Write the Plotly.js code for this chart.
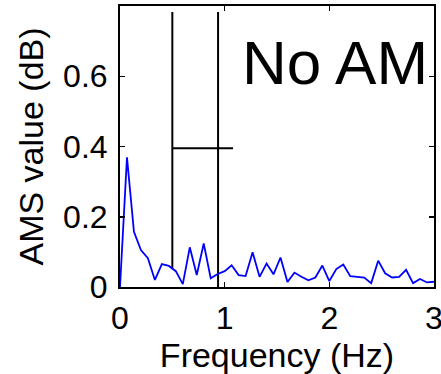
<!DOCTYPE html>
<html>
<head>
<meta charset="utf-8">
<script src="https://cdn.plot.ly/plotly-3.0.1.min.js"></script>
<style>
html,body{margin:0;padding:0;background:#fff;}
#chart{width:441px;height:374px;}
</style>
</head>
<body>
<div id="chart"></div>
<script>
// Modulation frequency bins (Hz)
const frequencies = [0, 0.0667, 0.1333, 0.2, 0.2667, 0.3333, 0.4, 0.4667, 0.5333, 0.6,
  0.6667, 0.7333, 0.8, 0.8667, 0.9333, 1.0, 1.0667, 1.1333, 1.2, 1.2667,
  1.3333, 1.4, 1.4667, 1.5333, 1.6, 1.6667, 1.7333, 1.8, 1.8667, 1.9333,
  2.0, 2.0667, 2.1333, 2.2, 2.2667, 2.3333, 2.4, 2.4667, 2.5333, 2.6,
  2.6667, 2.7333, 2.8, 2.8667, 2.9333, 3.0];
// AMS values (dB)
const amsValues = [0, 0.369, 0.157, 0.105, 0.082, 0.020, 0.065, 0.060, 0.045, 0.008,
  0.113, 0.034, 0.124, 0.025, 0.037, 0.045, 0.062, 0.034, 0.031, 0.099,
  0.029, 0.067, 0.036, 0.084, 0.014, 0.041, 0.029, 0.019, 0.027, 0.061,
  0.017, 0.051, 0.064, 0.031, 0.029, 0.027, 0.011, 0.075, 0.039, 0.027,
  0.029, 0.049, 0.011, 0.023, 0.013, 0.015];
// Marker lines
const leftMarkerX = [0.5, 0.5];
const leftMarkerY = [0.053, 0.783];
const rightMarkerX = [0.937, 0.937];
const rightMarkerY = [0, 0.783];
const barX = [0.5, 1.08];
const barY = [0.395, 0.395];
const yTicks = [0, 0.2, 0.4, 0.6];
const yTickText = ['0', '0.2', '0.4', '0.6'];
const xTicks = [0, 1, 2, 3];
const xTickText = ['0', '1', '2', '3'];
const labelText = 'No AM';

const font = 'Liberation Sans, Arial, Helvetica, sans-serif';

const traces = [
  {x: leftMarkerX, y: leftMarkerY, mode: 'lines', line: {color: '#000', width: 2}, hoverinfo: 'skip'},
  {x: rightMarkerX, y: rightMarkerY, mode: 'lines', line: {color: '#000', width: 2}, hoverinfo: 'skip'},
  {x: barX, y: barY, mode: 'lines', line: {color: '#000', width: 2}, hoverinfo: 'skip'},
  {x: frequencies, y: amsValues, mode: 'lines', line: {color: '#0000ff', width: 1.8}}
];

const layout = {
  width: 441, height: 374,
  margin: {l: 120, r: 7, t: 6, b: 87, pad: 0},
  paper_bgcolor: '#fff', plot_bgcolor: '#fff',
  showlegend: false,
  font: {family: font, color: '#000', size: 32},
  xaxis: {
    range: [0, 3], tickvals: xTicks, ticktext: xTickText,
    ticks: 'inside', ticklen: 5, tickwidth: 1.5, tickcolor: '#000',
    showline: true, linecolor: '#000', linewidth: 2, mirror: 'ticks',
    showgrid: false, zeroline: false,
    tickfont: {family: font, size: 32, color: '#000'},
    ticklabelstandoff: 2, ticklabeloverflow: 'allow',
    title: {text: 'Frequency (Hz)', font: {family: font, size: 34, color: '#000'}, standoff: 6}
  },
  yaxis: {
    range: [0, 0.8], tickvals: yTicks, ticktext: yTickText,
    ticks: 'inside', ticklen: 5, tickwidth: 1.5, tickcolor: '#000',
    showline: true, linecolor: '#000', linewidth: 2, mirror: 'ticks',
    showgrid: false, zeroline: false,
    tickfont: {family: font, size: 32, color: '#000'},
    ticklabelstandoff: 4, ticklabeloverflow: 'allow',
    title: {text: 'AMS value (dB)', font: {family: font, size: 34, color: '#000'}, standoff: 9}
  },
  annotations: [{
    text: labelText, xref: 'paper', yref: 'paper',
    x: 0.988, y: 0.80, xanchor: 'right', yanchor: 'middle',
    showarrow: false, font: {family: font, size: 62, color: '#000'}
  }]
};

Plotly.newPlot('chart', traces, layout, {staticPlot: true, displayModeBar: false});
</script>
</body>
</html>
